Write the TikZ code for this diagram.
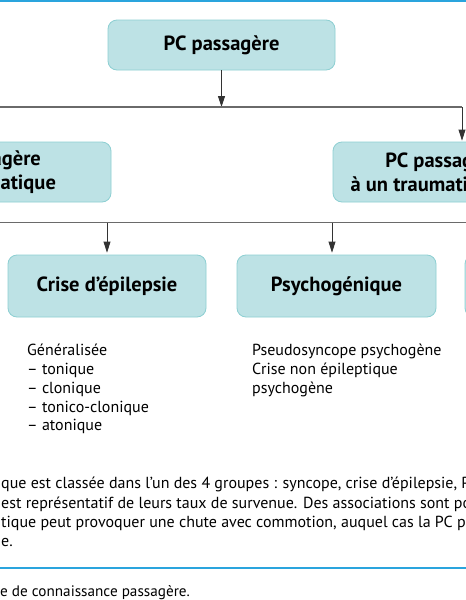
\documentclass[tikz,border=0pt]{standalone}
\usepackage{fontspec}
\setmainfont{PT Sans}
\usetikzlibrary{arrows.meta}
\definecolor{boxfill}{HTML}{BDE2E5}
\definecolor{boxline}{HTML}{8DCFD2}
\definecolor{rulecol}{HTML}{2AA4DD}
\definecolor{barcol}{HTML}{6A6A6A}
\definecolor{vcol}{HTML}{333333}
\begin{document}
\begin{tikzpicture}[x=1pt,y=-1pt,
  box/.style={draw=boxline, fill=boxfill, rounded corners=9pt, line width=0.8pt,
    font=\bfseries\fontsize{20.5}{24}\selectfont, align=center, inner sep=0pt},
  bar/.style={draw=barcol, line width=1.3pt},
  arr/.style={draw=vcol, line width=0.8pt, -{Triangle[length=11pt,width=7pt]}},
  txt/.style={inner sep=0pt, align=left, font=\fontsize{16}{18.8}\selectfont},
  captxt/.style={inner sep=0pt, align=left, font=\fontsize{16}{19.4}\selectfont}]
\useasboundingbox (0,0) rectangle (466,600);
\clip (0,0) rectangle (466,600);
\fill[white] (0,0) rectangle (466,600);
% rules
\fill[rulecol] (0,0) rectangle (466,2.2);
\fill[rulecol] (0,566.5) rectangle (466,568.7);
% boxes
\node[box, minimum width=227pt, minimum height=50pt] (top) at (221.5,45) {PC passagère};
\node[box, minimum width=256pt, minimum height=60pt] (nt) at (-17,172) {PC passagère\\non traumatique};
\node[box, minimum width=258pt, minimum height=60pt] (tr) at (462,172) {PC passagère liée\\à un traumatisme crânien};
\node[box, minimum width=198pt, minimum height=62pt] (crise) at (107,286) {Crise d’épilepsie};
\node[box, minimum width=199pt, minimum height=62pt] (psy) at (336.5,286) {Psychogénique};
\node[box, minimum width=198pt, minimum height=62pt] (fourth) at (564,286) {};
% connectors
\coordinate (bar1) at (0,107);
\coordinate (bar2) at (0,222.5);
\draw[arr] (top.south) -- (top.south |- bar1);
\draw[bar] (nt.north |- bar1) -- (tr.north |- bar1);
\draw[arr, shorten >=1pt] (tr.north |- bar1) -- (tr.north);
\draw[arr, shorten >=1pt] (nt.north |- bar1) -- (nt.north);
\draw[bar] (nt.south) -- (nt.south |- bar2) -- (fourth.north |- bar2);
\draw[arr, shorten >=2pt] (crise.north |- bar2) -- (crise.north);
\draw[arr, shorten >=2pt] ([xshift=-4.5pt]psy.north |- bar2) -- ([xshift=-4.5pt]psy.north);
\draw[arr, shorten >=2pt] (fourth.north |- bar2) -- (fourth.north);
% lists
\node[txt, anchor=north west] (l1) at (27,344) {Généralisée\\– tonique\\– clonique\\– tonico-clonique\\– atonique};
\node[txt, anchor=north west] (l2) at (252,344) {Pseudosyncope psychogène\\Crise non épileptique\\psychogène};
% caption
\node[captxt, anchor=north west] (caption) at (1,477) {que est classée dans l’un des 4 groupes : syncope, crise d’épilepsie, PC\\est représentatif de leurs taux de survenue. Des associations sont possibles\\tique peut provoquer une chute avec commotion, auquel cas la PC passagère\\e.};
\node[inner sep=0pt, anchor=base west, font=\fontsize{15.2}{17}\selectfont] (foot) at (0,596) {e de connaissance passagère.};
\end{tikzpicture}
\end{document}
